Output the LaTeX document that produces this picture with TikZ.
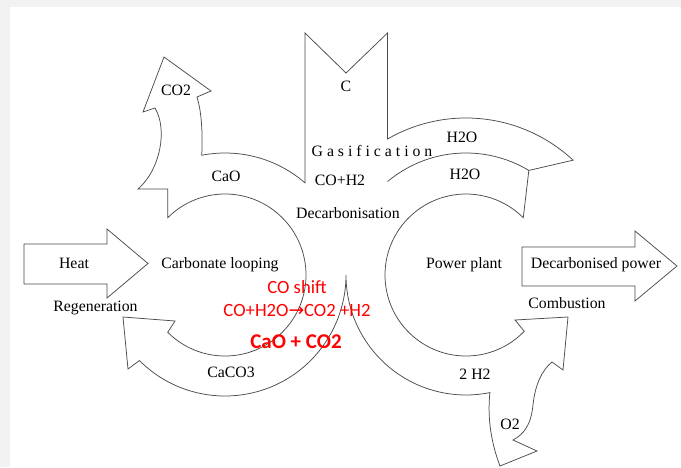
\documentclass[tikz,border=0pt]{standalone}
\usepackage{fontspec}
\setmainfont{Liberation Serif}
\newfontfamily\redfont{Carlito}
\newfontfamily\arrowfont{DejaVu Sans}
\usetikzlibrary{calc}
\begin{document}
\begin{tikzpicture}[x=1pt,y=1pt,
  outline/.style={draw=black!70, line width=0.75pt, line join=miter},
  lbl/.style={font=\fontsize{15.8}{18}\selectfont, inner sep=0pt, text=black},
  redlbl/.style={font=\redfont\fontsize{18.7}{22}\selectfont, inner sep=0pt, text=red},
]
\useasboundingbox (0,0) rectangle (681,-467);
\fill[white] (0,0) rectangle (681,-467);
% light frame strips
\fill[black!5] (0,0) rectangle (681,-7);
\fill[black!5] (0,0) rectangle (10,-467);

% centres of the two loops and the point where they touch
\coordinate (L) at (225,-275);
\coordinate (R) at (466,-275);
\coordinate (K) at (346,-275);

% combined outline: both loops, the C feed, CO2 exit, O2 feed
\draw[outline] (K)
  arc[start angle=180, end angle=281.5, radius=120pt]
  .. controls (487,-420) and (492,-445) .. (500,-466)
  -- (537,-451) -- (513,-440)
  .. controls (524,-434) and (531,-425) .. (533,-405)
  .. controls (535,-385) and (542,-370) .. (552,-362)
  -- (563,-370) -- (568,-317) -- (515,-320)
  -- ($(R)+(-44:81pt)$)
  arc[start angle=-44, end angle=-315, radius=81pt]
  -- ($(R)+(59:122pt)$) -- ($(R)+(47:157pt)$)
  arc[start angle=47, end angle=120, radius=157pt]
  -- (387.5,-33) -- (346,-73) -- (305,-33) -- ($(L)+(49:122pt)$)
  arc[start angle=49, end angle=101, radius=122pt]
  .. controls (203,-130) and (201,-110) .. (197,-97)
  -- (211,-91) -- (164,-57) -- (143,-112) -- (155,-108)
  .. controls (168,-130) and (160,-170) .. (138,-189)
  -- (167.7,-189) -- ($(L)+(135:81pt)$)
  arc[start angle=135, end angle=-135, radius=81pt]
  -- (175,-321) -- (123,-317) -- (128,-369) -- ($(L)+(225:121pt)$)
  arc[start angle=225, end angle=360, radius=121pt]
  -- cycle;

% divider between the two water bands
\draw[outline] ($(R)+(130:122pt)$) arc[start angle=130, end angle=59, radius=122pt];

% heat input and power output arrows
\draw[outline] (24,-244) -- (107,-244) -- (107,-229) -- (148,-263.5)
  -- (107,-298) -- (107,-284) -- (24,-284) -- cycle;
\draw[outline] (522,-247) -- (635,-247) -- (635,-231) -- (677,-266)
  -- (635,-301) -- (635,-286) -- (522,-286) -- cycle;

% labels
\node[lbl] (co2out) at (176,-90) {CO2};
\node[lbl] (carbon) at (346,-86) {C};
\node[lbl] (cao) at (226,-176) {CaO};
\node[lbl] (gasif) at (372,-151) {G a s i f i c a t i o n};
\node[lbl] (syngas) at (340,-180) {CO+H2};
\node[lbl] (decarb) at (348,-213) {Decarbonisation};
\node[lbl] (water1) at (462,-137) {H2O};
\node[lbl] (water2) at (465,-174) {H2O};
\node[lbl] (heat) at (74,-263) {Heat};
\node[lbl] (loop) at (220,-265) {Carbonate looping};
\node[lbl] (regen) at (95.5,-308) {Regeneration};
\node[lbl] (caco3) at (231,-372) {CaCO3};
\node[lbl] (plant) at (464,-265) {Power plant};
\node[lbl] (power) at (596,-265) {Decarbonised power};
\node[lbl] (comb) at (567,-303) {Combustion};
\node[lbl] (hydrogen) at (475,-374) {2 H2};
\node[lbl] (oxygen) at (510,-424) {O2};
\node[redlbl] (shift) at (297,-287) {CO shift};
\node[redlbl] (shiftrxn) at (297,-310) {CO+H2O{\arrowfont →}CO2 +H2};
\node[redlbl, font=\redfont\bfseries\fontsize{21}{25}\selectfont] (capture) at (296,-342) {CaO + CO2};
\end{tikzpicture}
\end{document}
